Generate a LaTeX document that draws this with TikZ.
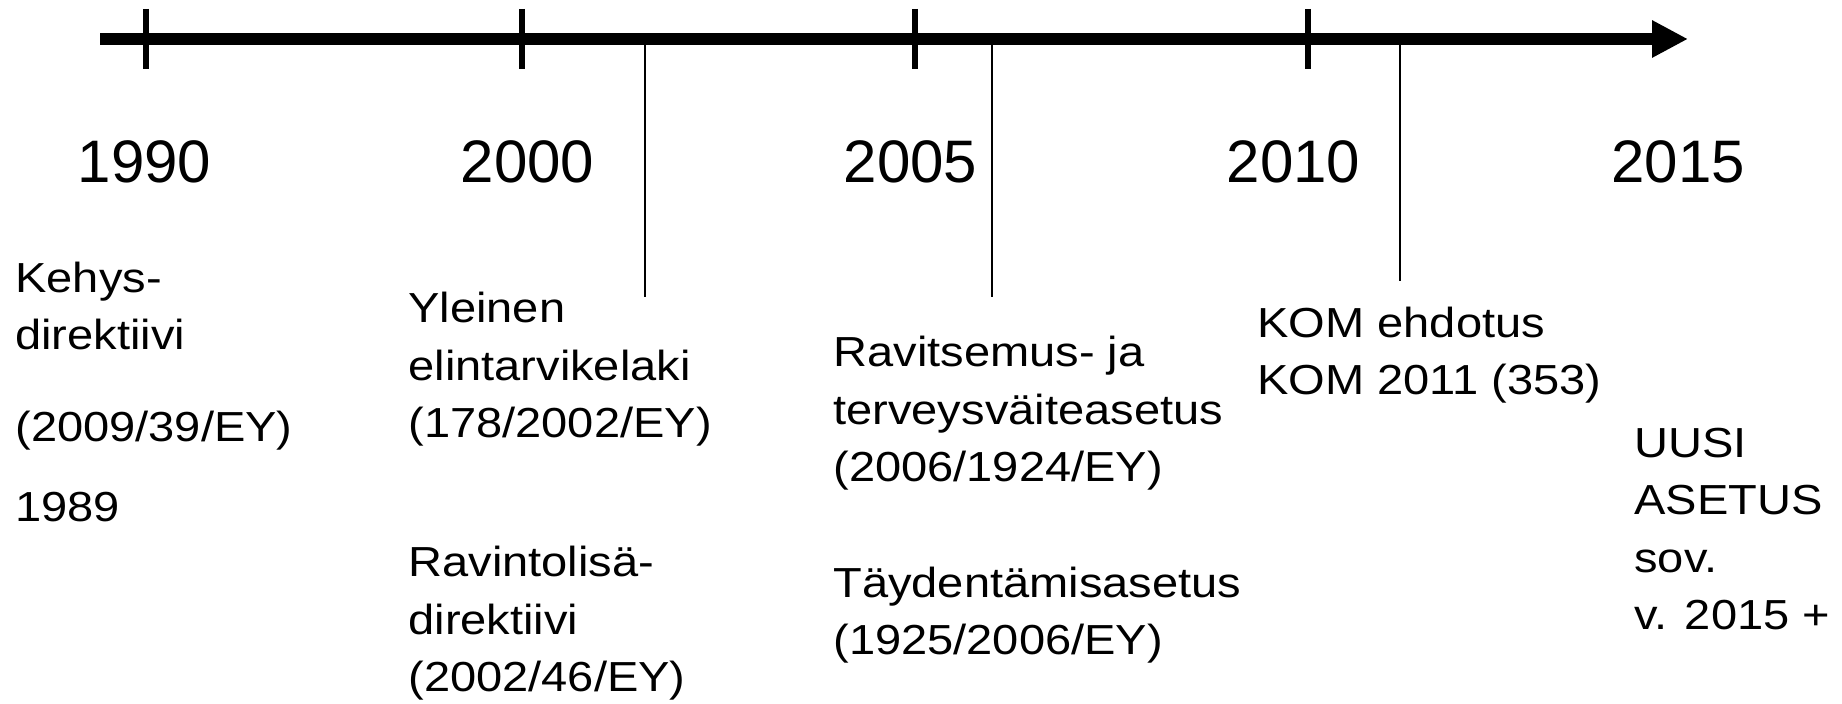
\documentclass[tikz,border=0pt]{standalone}
\usepackage{fontspec}
\setmainfont{Liberation Sans}
\newfontfamily\bodyfont{Liberation Sans}[FakeStretch=1.12]
\usepackage{tikz}
\usetikzlibrary{arrows.meta}
\tikzset{year/.style={anchor=base, inner sep=0pt, font=\fontsize{30}{36}\selectfont},
  law/.style={anchor=base west, inner sep=0pt, align=left, font=\bodyfont\fontsize{21}{28.75}\selectfont},
  tick/.style={line width=3pt},
  event/.style={line width=1.2pt}}

\begin{document}
\begin{tikzpicture}[x=0.5pt, y=-0.5pt, >={Triangle[length=18pt, width=17.5pt]}]
\useasboundingbox (0,0) rectangle (1842,704);
\coordinate (start) at (100,39);
\coordinate (end) at (1688,39);
\draw[->, line width=6pt] (start) -- (end);
\foreach \yr/\x in {1990/146, 2000/522, 2005/915, 2010/1308} {
  \coordinate (a\yr) at (\x,9);
  \coordinate (b\yr) at (\x,69);
  \draw[tick] (a\yr) -- (b\yr);
}
\foreach \yr/\x in {1990/144.5, 2000/527.5, 2005/910.5, 2010/1293.5, 2015/1678}
  \node[year] (y\yr) at (\x,183) {\yr};
\foreach \ev/\x/\y in {2002/645/297, 2006/992/297, 2011/1400/281} {
  \coordinate (e\ev) at (\x,39);
  \coordinate (f\ev) at (\x,\y);
  \draw[event] (e\ev) -- (f\ev);
}
% multi-line nodes: base = last line
\node[law] (kehys) at (15,522) {Kehys-\\direktiivi\\[17.25pt](2009/39/EY)\\[11.25pt]1989};
\node[law] (yleinen) at (408,438) {Yleinen\\elintarvikelaki\\(178/2002/EY)};
\node[law] (ravintolisa) at (408,692) {Ravintolisä-\\direktiivi\\(2002/46/EY)};
\node[law] (ravitsemus) at (833,482) {Ravitsemus- ja\\terveysväiteasetus\\(2006/1924/EY)};
\node[law] (taydentamis) at (833,655) {Täydentämisasetus\\(1925/2006/EY)};
\node[law] (kom) at (1257,395) {KOM ehdotus\\KOM 2011 (353)};
\node[law] (uusi) at (1634,630) {UUSI\\ASETUS\\sov.\\v. 2015 +};
\end{tikzpicture}
\end{document}
